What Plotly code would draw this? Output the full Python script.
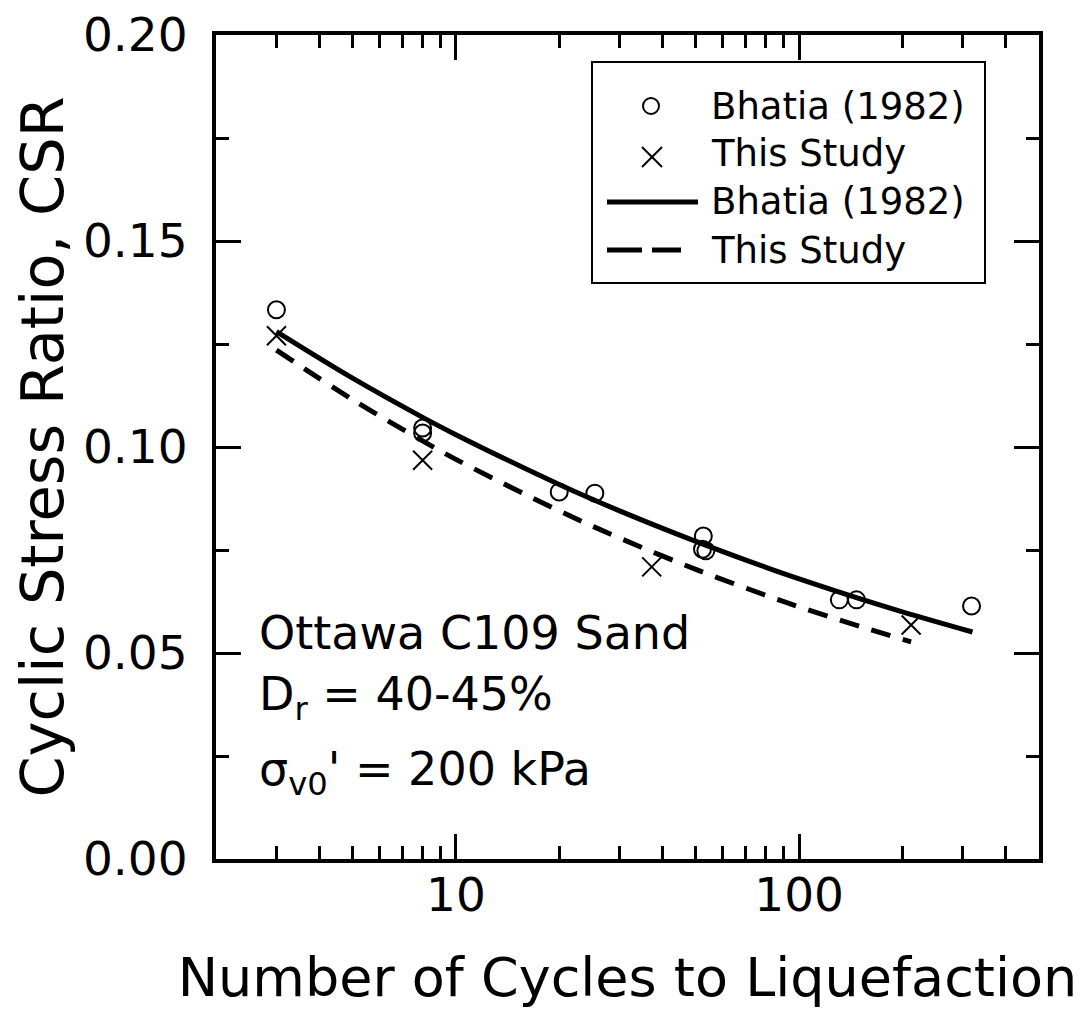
import plotly.graph_objects as go

# ---- data ----
bhatia_n = [3.0, 8.0, 8.0, 20.0, 25.4, 52.6, 52.3, 53.5, 131, 147, 318]
bhatia_csr = [0.1333, 0.1046, 0.1034, 0.0891, 0.0888, 0.0784, 0.0752, 0.0748, 0.0629, 0.0629, 0.0614]

study_n = [3.0, 8.0, 37.2, 212]
study_csr = [0.127, 0.0968, 0.0709, 0.0568]

bhatia_fit_n = [3, 5, 8, 10, 20, 30, 50, 80, 100, 150, 200, 320]
bhatia_fit_csr = [0.1280, 0.1167, 0.1072, 0.1030, 0.0909, 0.0845, 0.0771, 0.0708, 0.0680, 0.0632, 0.0600, 0.0551]

study_fit_n = [3, 5, 8, 10, 20, 30, 50, 80, 100, 150, 212]
study_fit_csr = [0.1235, 0.1115, 0.1015, 0.0970, 0.0845, 0.0779, 0.0703, 0.0640, 0.0612, 0.0565, 0.0527]

x_major = [10, 100]
x_major_text = ["10", "100"]
x_minor = [3, 4, 5, 6, 7, 8, 9, 20, 30, 40, 50, 60, 70, 80, 90, 200, 300, 400]
y_major = [0.0, 0.05, 0.10, 0.15, 0.20]
y_major_text = ["0.00", "0.05", "0.10", "0.15", "0.20"]
y_minor = [0.025, 0.075, 0.125, 0.175]

legend_labels = ["Bhatia (1982)", "This Study", "Bhatia (1982)", "This Study"]

FONT = "DejaVu Sans"
BLACK = "black"

# page body adds an 8px offset; work in screenshot pixels and subtract it
OFF = 8
FIG_W, FIG_H = 1086 - OFF, 1013 - OFF
W0, W1 = 216 - OFF, 1039 - OFF
H0, H1 = 35 - OFF, 859 - OFF

fig = go.Figure()
fig.add_trace(go.Scatter(x=bhatia_fit_n, y=bhatia_fit_csr, mode="lines",
                         line=dict(color=BLACK, width=5), line_shape="spline",
                         name=legend_labels[2], showlegend=False))
fig.add_trace(go.Scatter(x=study_fit_n, y=study_fit_csr, mode="lines",
                         line=dict(color=BLACK, width=5, dash="20px,13px"), line_shape="spline",
                         name=legend_labels[3], showlegend=False))
fig.add_trace(go.Scatter(x=bhatia_n, y=bhatia_csr, mode="markers",
                         marker=dict(symbol="circle-open", size=17, color=BLACK,
                                     line=dict(width=2, color=BLACK)),
                         name=legend_labels[0], showlegend=False))
fig.add_trace(go.Scatter(x=study_n, y=study_csr, mode="markers",
                         marker=dict(symbol="x-thin-open", size=19, color=BLACK,
                                     line=dict(width=2, color=BLACK)),
                         name=legend_labels[1], showlegend=False))

fig.update_xaxes(type="log", range=[0.30103, 2.69897], automargin=False,
                 showline=True, linewidth=4, linecolor=BLACK, mirror="ticks",
                 ticks="inside", ticklen=25, tickwidth=3, tickcolor=BLACK,
                 tickvals=x_major, ticktext=x_major_text,
                 minor=dict(tickvals=x_minor, ticks="inside", ticklen=13, tickwidth=3,
                            tickcolor=BLACK, showgrid=False),
                 showgrid=False, zeroline=False,
                 tickfont=dict(family=FONT, size=47, color=BLACK),
                 ticklabelstandoff=-8, ticklabeloverflow="allow",
                 title=dict(text="Number of Cycles to Liquefaction",
                            font=dict(family=FONT, size=54, color=BLACK), standoff=38))
fig.update_yaxes(range=[0, 0.2], automargin=False,
                 showline=True, linewidth=4, linecolor=BLACK, mirror="ticks",
                 ticks="inside", ticklen=25, tickwidth=3, tickcolor=BLACK,
                 tickvals=y_major, ticktext=y_major_text,
                 minor=dict(tickvals=y_minor, ticks="inside", ticklen=13, tickwidth=3,
                            tickcolor=BLACK, showgrid=False),
                 showgrid=False, zeroline=False,
                 tickfont=dict(family=FONT, size=47, color=BLACK),
                 ticklabelstandoff=15, ticklabeloverflow="allow",
                 title=dict(text="Cyclic Stress Ratio, CSR",
                            font=dict(family=FONT, size=59, color=BLACK), standoff=32))


def px(x):
    return (x - OFF - W0) / (W1 - W0)


def py(y):
    return (H1 - (y - OFF)) / (H1 - H0)


# ---- custom legend (paper coordinates, from screenshot pixels) ----
shapes = [
    dict(type="rect", xref="paper", yref="paper", x0=px(592), x1=px(985), y0=py(283), y1=py(62),
         line=dict(color=BLACK, width=2), fillcolor="white", layer="above"),
    dict(type="circle", xref="paper", yref="paper", xsizemode="pixel", ysizemode="pixel",
         xanchor=px(651), yanchor=py(106), x0=-8, x1=8, y0=-8, y1=8,
         line=dict(color=BLACK, width=2)),
    dict(type="line", xref="paper", yref="paper", xsizemode="pixel", ysizemode="pixel",
         xanchor=px(652), yanchor=py(157), x0=-10, x1=10, y0=-10, y1=10,
         line=dict(color=BLACK, width=2)),
    dict(type="line", xref="paper", yref="paper", xsizemode="pixel", ysizemode="pixel",
         xanchor=px(652), yanchor=py(157), x0=-10, x1=10, y0=10, y1=-10,
         line=dict(color=BLACK, width=2)),
    dict(type="line", xref="paper", yref="paper", x0=px(607), x1=px(698), y0=py(202), y1=py(202),
         line=dict(color=BLACK, width=5)),
    dict(type="line", xref="paper", yref="paper", x0=px(607), x1=px(642), y0=py(250), y1=py(250),
         line=dict(color=BLACK, width=5)),
    dict(type="line", xref="paper", yref="paper", x0=px(652), x1=px(681), y0=py(250), y1=py(250),
         line=dict(color=BLACK, width=5)),
]

annotations = []
for lab, yy in zip(legend_labels, [106, 153, 202, 250]):
    annotations.append(dict(text=lab, xref="paper", yref="paper", x=px(709), y=py(yy),
                            xanchor="left", yanchor="middle", showarrow=False,
                            font=dict(family=FONT, size=37, color=BLACK)))

annotations += [
    dict(text="Ottawa C109 Sand", xref="paper", yref="paper", x=px(257), y=py(633),
         xanchor="left", yanchor="middle", showarrow=False,
         font=dict(family=FONT, size=46, color=BLACK)),
    dict(text="D<sub>r</sub> = 40-45%", xref="paper", yref="paper", x=px(257), y=py(697),
         xanchor="left", yanchor="middle", showarrow=False,
         font=dict(family=FONT, size=46, color=BLACK)),
    dict(text="σ<sub>v0</sub>' = 200 kPa", xref="paper", yref="paper", x=px(257), y=py(772),
         xanchor="left", yanchor="middle", showarrow=False,
         font=dict(family=FONT, size=46, color=BLACK)),
]

fig.update_layout(width=FIG_W, height=FIG_H,
                  margin=dict(l=W0, r=FIG_W - W1, t=H0, b=FIG_H - H1),
                  paper_bgcolor="white", plot_bgcolor="white",
                  shapes=shapes, annotations=annotations, showlegend=False,
                  font=dict(family=FONT, color=BLACK))

fig.write_html("out.html")
